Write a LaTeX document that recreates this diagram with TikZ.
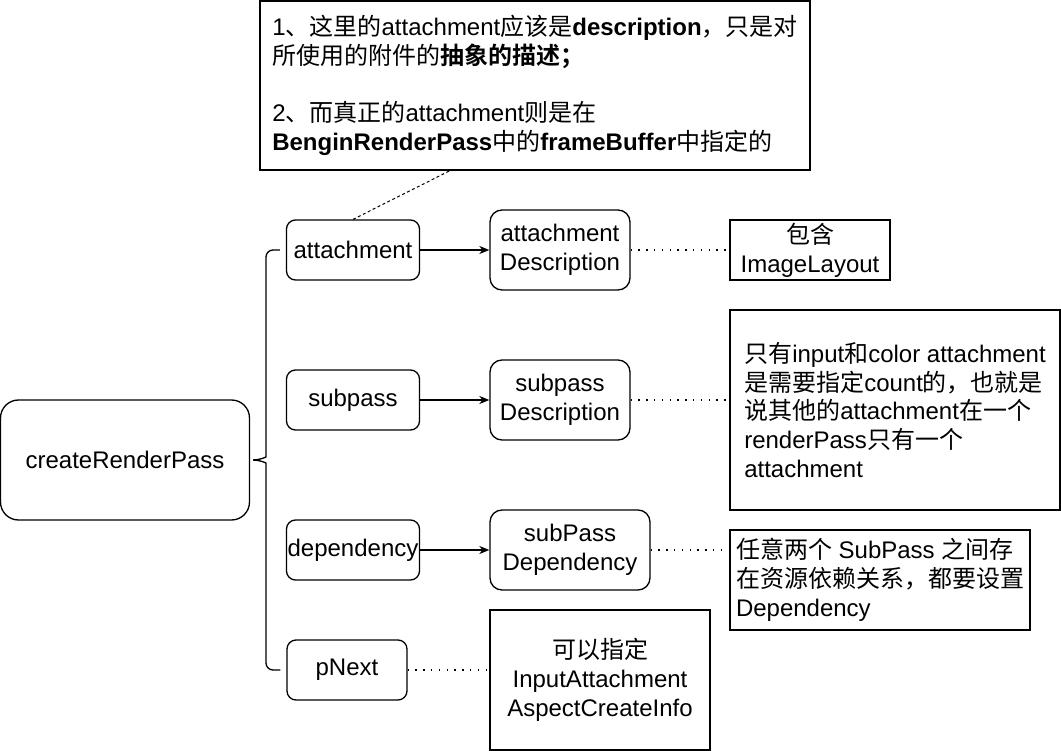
\documentclass[tikz,border=0pt]{standalone}
\usepackage{fontspec}
\usepackage{tikz}
\setmainfont{Liberation Sans}
\newfontfamily\cjk{Noto Sans CJK SC}[BoldFont={Noto Sans CJK SC Bold}]
\newcommand{\zh}[1]{{\cjk #1}}
\usetikzlibrary{positioning,arrows.meta}

\begin{document}
\begin{tikzpicture}[x=1pt,y=-1pt,
        font=\fontsize{24}{28.8}\selectfont,
        rootnode/.style={rounded corners=18pt, draw=black, line width=1.3pt, minimum width=249pt, minimum height=120pt, align=center},
        membernode/.style={rounded corners=9pt, draw=black, line width=1.3pt, minimum width=133pt, minimum height=60pt, inner sep=1pt, align=center},
        descnode/.style={rounded corners=12pt, draw=black, line width=1.3pt, minimum width=140pt, minimum height=80pt, inner sep=1pt, align=center},
        notenode/.style={rectangle, draw=black, line width=1.3pt, inner sep=0pt},
        arrowline/.style={-{Stealth[length=10pt,width=8pt,inset=3pt]}, line width=1.3pt},
        dotline/.style={line width=1.3pt, dash pattern=on 1.3pt off 6.5pt},
        dashline/.style={line width=1pt, dash pattern=on 3pt off 2.5pt},
        bracestyle/.style={line width=1.3pt, rounded corners=7pt},
        node distance=150pt,
    ]
    \useasboundingbox (0,0) rectangle (1061,751);
    %Nodes
    \node[rootnode]  (rpnode) at (125,460) {createRenderPass};
    \node[membernode]  (attnode) at (353,250) {attachment};
    \node[membernode]  (subnode)  [below of= attnode] {subpass};
    \node[membernode]  (depnode)  [below of= subnode] {dependency};
    \node[membernode, minimum width=120pt]  (pnextnode) at (347,670) {pNext};
    \node[descnode]  (attdescnode) at (560,250) {attachment\\Description};
    \node[descnode]  (subdescnode) at (560,400) {subpass\\Description};
    \node[descnode, minimum width=160pt]  (subdepnode) at (570,550) {subPass\\Dependency};
    \node[notenode, minimum width=550pt, minimum height=169pt, align=left]  (topnote) at (535,85.5) {%
        1\zh{、这里的}attachment\zh{应该是}\textbf{description}\zh{，只是对}\\
        \zh{所使用的附件的}\textbf{\zh{抽象的描述；}}\\[28.8pt]
        2\zh{、而真正的}attachment\zh{则是在}\\
        \textbf{BenginRenderPass}\zh{中的}\textbf{frameBuffer}\zh{中指定的}};
    \node[notenode, minimum width=160pt, minimum height=60pt, align=center]  (layoutnote) at (810,250) {\zh{包含}\\ImageLayout};
    \node[notenode, minimum width=330pt, minimum height=200pt, align=left]  (countnote) at (895,410) {%
        \zh{只有}input\zh{和}color attachment\\
        \zh{是需要指定}count\zh{的，也就是}\\
        \zh{说其他的}attachment\zh{在一个}\\
        renderPass\zh{只有一个}\\
        attachment};
    \node[notenode, minimum width=300pt, minimum height=100pt, align=left]  (depnote) at (880,580) {%
        \zh{任意两个} SubPass \zh{之间存}\\
        \zh{在资源依赖关系，都要设置}\\
        Dependency};
    \node[notenode, minimum width=220pt, minimum height=140pt, align=center]  (aspectnote) at (600,680) {%
        \zh{可以指定}\\InputAttachment\\AspectCreateInfo};
    %Brace
    \coordinate (bracetop) at ([xshift=-6pt]attnode.west);
    \coordinate (bracebot) at ([xshift=-6pt]pnextnode.west);
    \coordinate (bracetip) at ([xshift=3pt]rpnode.east);
    \draw[bracestyle] (bracetop) -- (266,250) -- (266,450) .. controls (266,457) and (260,460) .. (bracetip);
    \draw[bracestyle] (bracebot) -- (266,670) -- (266,470) .. controls (266,463) and (260,460) .. (bracetip);
    %Lines
    \draw[arrowline] (attnode.east) -- (attdescnode.west);
    \draw[arrowline] (subnode.east) -- (subdescnode.west);
    \draw[arrowline] (depnode.east) -- (subdepnode.west);
    \draw[dotline] (attdescnode.east) -- (layoutnote.west);
    \draw[dotline] (subdescnode.east) -- (subdescnode.east -| countnote.west);
    \draw[dotline] (subdepnode.east) -- (subdepnode.east -| depnote.west);
    \draw[dotline] (pnextnode.east) -- (pnextnode.east -| aspectnote.west);
    \draw[dashline] (attnode.north) -- ([xshift=-85pt]topnote.south);
\end{tikzpicture}
\end{document}
